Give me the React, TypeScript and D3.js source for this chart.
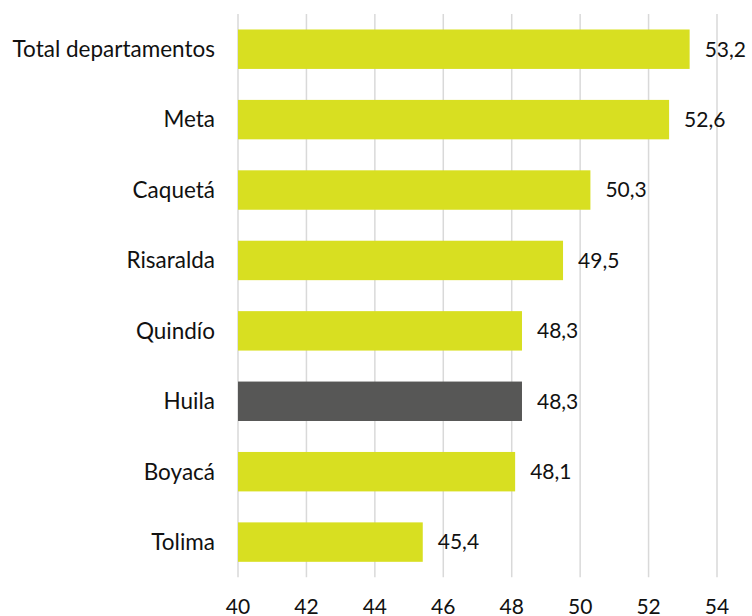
import React from "react";
import * as d3 from "d3";

const categories = [
  "Total departamentos",
  "Meta",
  "Caquetá",
  "Risaralda",
  "Quindío",
  "Huila",
  "Boyacá",
  "Tolima",
];
const values = [53.2, 52.6, 50.3, 49.5, 48.3, 48.3, 48.1, 45.4];
const highlight = "Huila";
const ticks = [40, 42, 44, 46, 48, 50, 52, 54];

const W = 752;
const H = 616;
const FONT = "Lato, 'Open Sans', sans-serif";

export default function App() {
  const x = d3.scaleLinear().domain([40, 54]).range([238, 717]);
  const y = d3
    .scaleBand<string>()
    .domain(categories)
    .range([14, 577.3])
    .paddingInner(0.44)
    .paddingOuter(0.22);
  const fmt = (v: number) => v.toFixed(1).replace(".", ",");

  return (
    <svg
      width={W}
      height={H}
      style={{ position: "fixed", left: 0, top: 0, background: "#fff" }}
      fontFamily={FONT}
    >
      <rect x={0} y={0} width={W} height={H} fill="#fff" />
      {ticks.map((t) => (
        <line
          key={"g" + t}
          x1={x(t)}
          x2={x(t)}
          y1={14}
          y2={577.3}
          stroke="#d9d9d9"
          strokeWidth={1.5}
        />
      ))}
      {categories.map((c, i) => (
        <rect
          key={"b" + c}
          x={x(40)}
          y={y(c)}
          width={x(values[i]) - x(40)}
          height={y.bandwidth()}
          fill={c === highlight ? "#575756" : "#D8DF21"}
        />
      ))}
      {categories.map((c) => (
        <text
          key={"c" + c}
          x={215}
          y={(y(c) as number) + y.bandwidth() / 2}
          dy="0.35em"
          textAnchor="end"
          fontSize={22.5}
          fill="#111"
        >
          {c}
        </text>
      ))}
      {categories.map((c, i) => (
        <text
          key={"v" + c}
          x={x(values[i]) + 15}
          y={(y(c) as number) + y.bandwidth() / 2}
          dy="0.35em"
          textAnchor="start"
          fontSize={21}
          fill="#111"
        >
          {fmt(values[i])}
        </text>
      ))}
      {ticks.map((t) => (
        <text
          key={"t" + t}
          x={x(t)}
          y={607}
          dy="0.35em"
          textAnchor="middle"
          fontSize={21}
          fill="#111"
        >
          {t}
        </text>
      ))}
    </svg>
  );
}
